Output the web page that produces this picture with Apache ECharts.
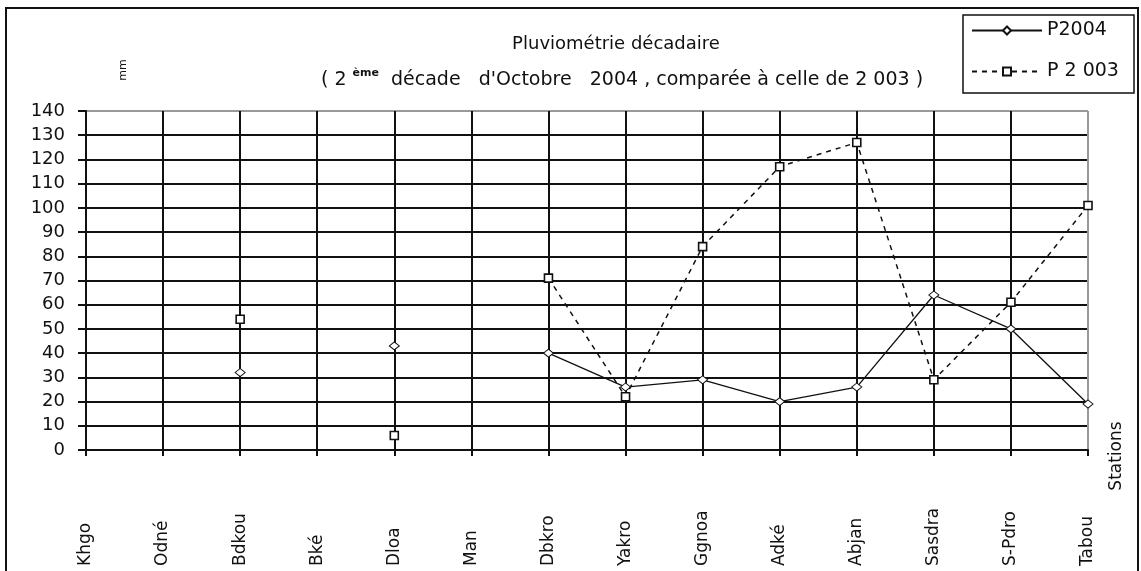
<!DOCTYPE html>
<html>
<head>
<meta charset="utf-8">
<script src="https://cdn.jsdelivr.net/npm/echarts@6/dist/echarts.min.js"></script>
<style>
  html, body { margin: 0; padding: 0; background: #fff; }
  #c1 { width: 1141px; height: 571px; }
</style>
</head>
<body>
<div id="c1"></div>
<script>
// stations (axe des x)
var stations = ['Khgo', 'Odné', 'Bdkou', 'Bké', 'Dloa', 'Man', 'Dbkro', 'Yakro',
    'Ggnoa', 'Adké', 'Abjan', 'Sasdra', 'S-Pdro', 'Tabou'];
// pluie 2e décade octobre 2004 (mm)
var p2004 = [null, null, 32, null, 43, null, 40, 26, 29, 20, 26, 64, 50, 19];
// pluie même décade 2003 (mm)
var p2003 = [null, null, 54, null, 6, null, 71, 22, 84, 117, 127, 29, 61, 101];
var yMin = 0, yMax = 140, yStep = 10;

var FONT = 'DejaVu Sans';
var ec_pluvio = echarts.init(document.getElementById('c1'), null, { renderer: 'canvas' });

// dernière ligne verticale (Tabou) et ligne du haut en gris = bord de la zone de tracé
var xSplitColors = stations.map(function (s, i) { return i === stations.length - 1 ? '#999' : '#111'; });
var ySplitColors = [];
for (var v = yMin; v <= yMax; v += yStep) { ySplitColors.push(v === yMax ? '#999' : '#111'); }

var ec_pluvio_option = {
    backgroundColor: '#fff',
    animation: false,
    title: [{
        text: 'Pluviométrie décadaire',
        left: 611, top: 30, textAlign: 'center',
        textStyle: { fontFamily: FONT, fontSize: 18, fontWeight: 'normal', color: '#111' }
    }, {
        text: '( 2 {sup|ème}  décade   d\'Octobre   2004 , comparée à celle de 2 003 )',
        left: 617, top: 63, textAlign: 'center',
        textStyle: {
            fontFamily: FONT, fontSize: 19, fontWeight: 'normal', color: '#111', lineHeight: 24,
            rich: {
                sup: { fontFamily: FONT, fontSize: 11, fontWeight: 'bold', color: '#111', verticalAlign: 'top', lineHeight: 24 }
            }
        }
    }],
    legend: {
        orient: 'vertical',
        left: 971, top: 21,
        itemWidth: 70, itemHeight: 10,
        itemGap: 22,
        padding: 0,
        textStyle: { fontFamily: FONT, fontSize: 19, color: '#111' },
        data: ['P2004', 'P 2 003']
    },
    grid: { left: 86, right: 53, top: 111, bottom: 121, containLabel: false },
    xAxis: {
        type: 'category',
        data: stations,
        boundaryGap: false,
        axisLine: { show: true, lineStyle: { color: '#111', width: 2 } },
        axisTick: { show: true, length: 6, lineStyle: { color: '#111', width: 2 } },
        axisLabel: {
            rotate: 90, align: 'left', verticalAlign: 'middle', margin: 116,
            fontFamily: FONT, fontSize: 17, color: '#111', interval: 0
        },
        splitLine: { show: true, lineStyle: { color: xSplitColors, width: 2 } }
    },
    yAxis: {
        type: 'value',
        min: yMin, max: yMax, interval: yStep,
        axisLine: { show: true, lineStyle: { color: '#111', width: 2 } },
        axisTick: { show: true, length: 8, lineStyle: { color: '#111', width: 2 } },
        axisLabel: { margin: 21, fontFamily: FONT, fontSize: 18, color: '#111' },
        splitLine: { show: true, lineStyle: { color: ySplitColors, width: 2 } }
    },
    graphic: [{
        type: 'rect',
        shape: { x: 6, y: 8, width: 1132, height: 600 },
        style: { fill: null, stroke: '#111', lineWidth: 2 },
        silent: true
    }, {
        type: 'rect',
        shape: { x: 963, y: 15, width: 171, height: 78 },
        style: { fill: null, stroke: '#111', lineWidth: 1.5 },
        silent: true
    }, {
        type: 'text',
        x: 123, y: 70, rotation: Math.PI / 2,
        style: { text: 'mm', font: '11px "DejaVu Sans"', fill: '#111', align: 'center', verticalAlign: 'middle' }
    }, {
        type: 'text',
        x: 1117, y: 456, rotation: Math.PI / 2,
        style: { text: 'Stations', font: '17px "DejaVu Sans"', fill: '#111', align: 'center', verticalAlign: 'middle' }
    }],
    series: [{
        name: 'P2004',
        type: 'line',
        data: p2004,
        connectNulls: false,
        showAllSymbol: true,
        symbol: 'diamond',
        symbolSize: [10, 8],
        lineStyle: { color: '#111', width: 1.3, type: 'solid' },
        itemStyle: { color: '#fff', borderColor: '#111', borderWidth: 1 },
        z: 3
    }, {
        name: 'P 2 003',
        type: 'line',
        data: p2003,
        connectNulls: false,
        showAllSymbol: true,
        symbol: 'rect',
        symbolSize: 8,
        lineStyle: { color: '#111', width: 1.5, type: [5, 5] },
        itemStyle: { color: '#fff', borderColor: '#111', borderWidth: 1.6 },
        z: 4
    }]
};

ec_pluvio.setOption(ec_pluvio_option);
</script>
</body>
</html>
